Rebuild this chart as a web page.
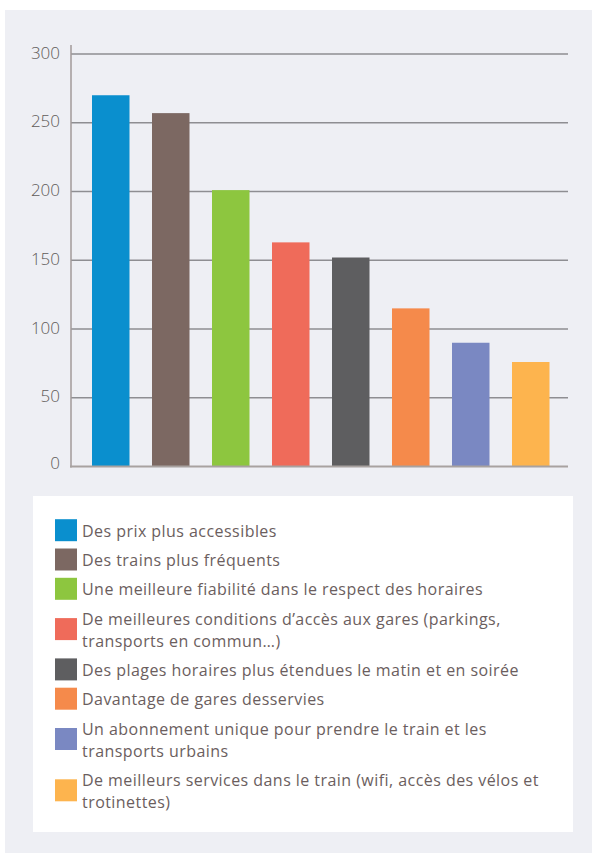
<!DOCTYPE html>
<html>
<head>
<meta charset="utf-8">
<script src="https://cdn.jsdelivr.net/npm/d3@7"></script>
<style>
  body { margin: 0; background: #fff; }
</style>
</head>
<body>
<div id="chart"></div>
<script>
const categories = [
  'Des prix plus accessibles',
  'Des trains plus fréquents',
  'Une meilleure fiabilité dans le respect des horaires',
  'De meilleures conditions d’accès aux gares (parkings, transports en commun…)',
  'Des plages horaires plus étendues le matin et en soirée',
  'Davantage de gares desservies',
  'Un abonnement unique pour prendre le train et les transports urbains',
  'De meilleurs services dans le train (wifi, accès des vélos et trotinettes)'
]
const values = [270, 257, 201, 163, 152, 115, 90, 76]
const colors = ['#0a8fce', '#7c6862', '#8dc63f', '#ef6b5a', '#5e5e60', '#f58a4b', '#7a88c2', '#fdb44e']
const yTicks = [0, 50, 100, 150, 200, 250, 300]

const width = 592
const height = 853

const svg = d3
  .select('#chart')
  .append('svg')
  .attr('width', width)
  .attr('height', height)

// grey panel behind everything
svg
  .append('rect')
  .attr('x', 5)
  .attr('y', 10)
  .attr('width', width - 5)
  .attr('height', height - 10)
  .attr('fill', '#eeeff4')

const x = d3
  .scaleBand()
  .domain(categories)
  .range([74, 567.5])
  .paddingInner(0.375)
  .paddingOuter(0.3)

const y = d3
  .scaleLinear()
  .domain([0, 300])
  .range([466.5, 54])

const plot = svg.append('g')

// gridlines
plot
  .selectAll('.grid')
  .data(yTicks.filter(d => d > 0))
  .enter()
  .append('line')
  .attr('class', 'grid')
  .attr('x1', 71)
  .attr('x2', 568)
  .attr('y1', d => y(d))
  .attr('y2', d => y(d))
  .attr('stroke', '#8e8e92')
  .attr('stroke-width', 1.5)

// tick labels
plot
  .selectAll('.tick-label')
  .data(yTicks)
  .enter()
  .append('text')
  .attr('class', 'tick-label')
  .attr('x', 60)
  .attr('y', d => y(d))
  .attr('dy', d => (d === 0 ? -2 : 0))
  .attr('text-anchor', 'end')
  .attr('dominant-baseline', 'middle')
  .attr('font-family', 'Open Sans, sans-serif')
  .attr('font-weight', 300)
  .attr('font-size', 17)
  .attr('fill', '#605b59')
  .text(d => d)

// bars
plot
  .selectAll('.bar')
  .data(values)
  .enter()
  .append('rect')
  .attr('class', 'bar')
  .attr('x', (d, i) => x(categories[i]))
  .attr('y', d => y(d))
  .attr('width', x.bandwidth())
  .attr('height', d => y(0) - y(d))
  .attr('fill', (d, i) => colors[i])

// y axis line + baseline
plot
  .append('line')
  .attr('x1', 71)
  .attr('x2', 71)
  .attr('y1', 45)
  .attr('y2', y(0) + 1)
  .attr('stroke', '#a29a9a')
  .attr('stroke-width', 1.5)
plot
  .append('line')
  .attr('x1', 70)
  .attr('x2', 568)
  .attr('y1', y(0))
  .attr('y2', y(0))
  .attr('stroke', '#a8a2a0')
  .attr('stroke-width', 2)

// legend
const legend = svg.append('g')
legend
  .append('rect')
  .attr('x', 33)
  .attr('y', 496)
  .attr('width', 540)
  .attr('height', 336)
  .attr('fill', '#ffffff')

const fontSize = 16
const spacing = 0.45
const lineH = 22
const gap = 29.3
const maxW = 470

// measure & wrap labels
const measure = svg
  .append('text')
  .attr('font-family', 'Open Sans, sans-serif')
  .attr('font-size', fontSize)
  .attr('letter-spacing', spacing)
function wrap(str) {
  const words = str.split(' ')
  const lines = []
  let cur = ''
  words.forEach(w => {
    const test = cur ? cur + ' ' + w : w
    measure.text(test)
    if (cur && measure.node().getComputedTextLength() > maxW) {
      lines.push(cur)
      cur = w
    } else {
      cur = test
    }
  })
  lines.push(cur)
  return lines
}

let base = 536.7
categories.forEach((c, i) => {
  const lines = wrap(c)
  const item = legend.append('g')
  const mid = base + ((lines.length - 1) * lineH) / 2
  item
    .append('rect')
    .attr('x', 55)
    .attr('y', mid - 6.5 - 11)
    .attr('width', 22)
    .attr('height', 22)
    .attr('fill', colors[i])
  item
    .selectAll('text')
    .data(lines)
    .enter()
    .append('text')
    .attr('x', 82)
    .attr('y', (d, j) => base + j * lineH)
    .attr('font-family', 'Open Sans, sans-serif')
    .attr('font-size', fontSize)
    .attr('letter-spacing', spacing)
    .attr('fill', '#6b5e5e')
    .text(d => d)
  base += (lines.length - 1) * lineH + gap
})
measure.remove()
</script>
</body>
</html>
